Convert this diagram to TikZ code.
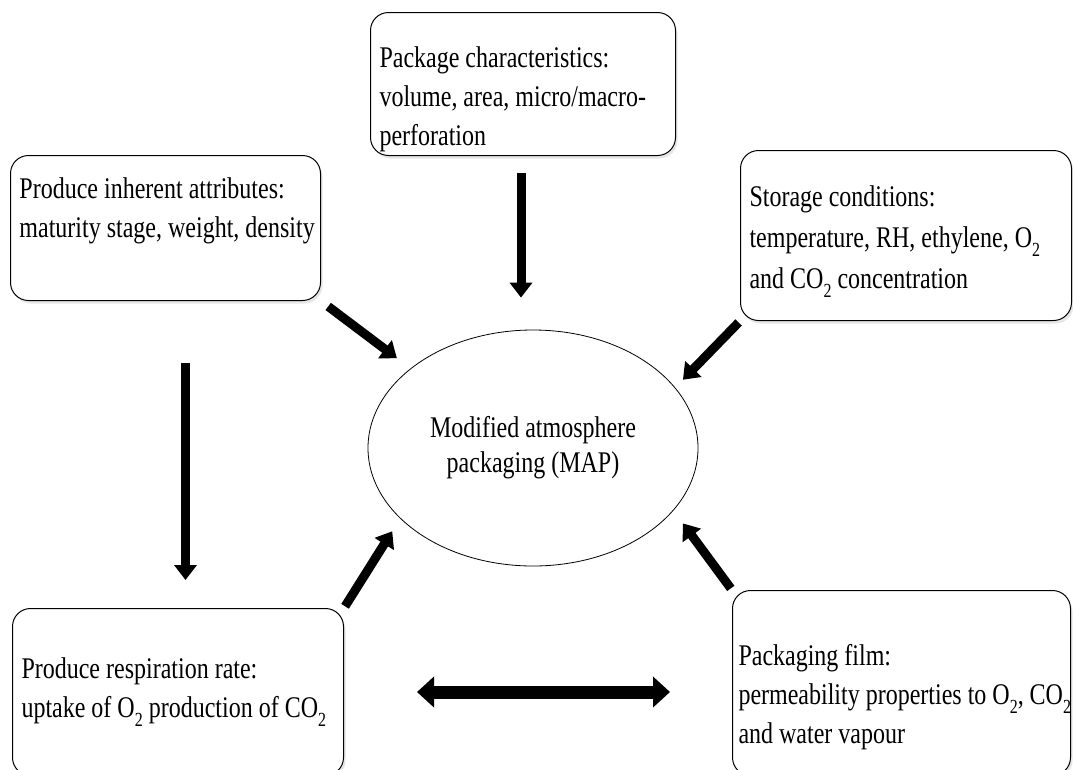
\documentclass[tikz,border=0pt]{standalone}
\usepackage{fontspec}
\setmainfont[FakeStretch=0.8]{Liberation Serif}
\usetikzlibrary{arrows.meta,shapes.geometric,shadows}
\newcommand{\subtwo}{\raisebox{-.3em}{\fontsize{20}{20}\selectfont 2}}
\newcommand{\toppad}[1]{\rule{0pt}{#1}}
\newcommand{\botpad}[1]{\rule[-#1]{0pt}{0pt}}
\tikzset{
  factor/.style={draw, fill=white, rounded corners=18pt, line width=1pt,
    align=flush left, anchor=north west, inner xsep=9pt,
    font=\fontsize{30}{39}\selectfont,
    drop shadow={shadow xshift=2pt, shadow yshift=-3pt, opacity=.2}},
  bigarrow/.style={line width=9pt, -{Triangle[width=22pt,length=15pt]}},
}
\begin{document}
\begin{tikzpicture}[x=1pt, y=-1pt]
\useasboundingbox (0,0) rectangle (1073,769);
\clip (0,0) rectangle (1073,769);
% the five factors round the package
\node[factor, text width=287pt, minimum height=143pt] (pack) at (370,12)
  {\toppad{51pt}Package characteristics:\\ \mbox{volume, area, micro/macro-}\\ perforation};
\node[factor, text width=292pt, minimum height=145pt] (inh) at (10,155)
  {Produce inherent attributes:\\ \mbox{maturity stage, weight, density}\botpad{40pt}};
\node[factor, text width=313pt, minimum height=170pt] (stor) at (740,150)
  {\toppad{33pt}Storage conditions:\\[2pt] \mbox{temperature, RH, ethylene, O\subtwo}\\[2pt] and CO\subtwo{} concentration};
\node[factor, text width=313pt, minimum height=167pt] (resp) at (12,608)
  {Produce respiration rate:\\ \mbox{uptake of O\subtwo{} production of CO\subtwo}};
\node[factor, inner xsep=6pt, text width=326pt, minimum height=185pt] (film) at (732,590)
  {\toppad{49pt}Packaging film:\\ \mbox{permeability properties to O\subtwo, CO\subtwo}\\ and water vapour};
% centre
\node[draw, ellipse, line width=.8pt, minimum width=330pt, minimum height=236pt,
  align=center, font=\fontsize{30}{35}\selectfont] (map) at (533,448)
  {Modified atmosphere\\ packaging (MAP)};
% arrows
\draw[bigarrow, shorten <=17pt, shorten >=32pt] ([xshift=-2pt]pack.south) -- ([xshift=-2pt]pack.south |- map.north);
\draw[bigarrow, shorten <=62pt, shorten >=28pt] ([xshift=20pt]inh.south) -- ([xshift=20pt]inh.south |- resp.north);
\draw[bigarrow, shorten <=9pt, shorten >=17pt] (inh.south east) -- (map.147);
\draw[bigarrow, shorten <=2pt, shorten >=11pt] (stor.south west) -- (map.23);
\draw[bigarrow, shorten <=2pt, shorten >=15pt] (resp.north east) -- (map.208);
\draw[bigarrow, shorten <=2pt, shorten >=16pt] (film.north west) -- (map.336);
\draw[line width=13pt, {Triangle[width=30pt,length=17pt]}-{Triangle[width=30pt,length=17pt]},
  shorten <=73pt, shorten >=62pt] (resp.east) -- (resp.east -| film.west);
\end{tikzpicture}
\end{document}
